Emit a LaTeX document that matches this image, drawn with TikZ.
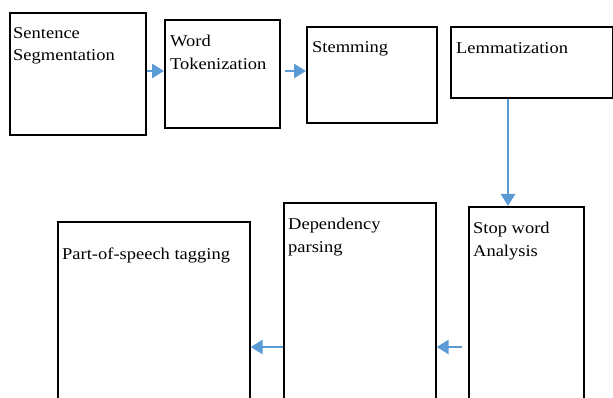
\documentclass[tikz,border=0pt]{standalone}
\usepackage{fontspec}
\setmainfont{Liberation Serif}[FakeStretch=1.12]
\usetikzlibrary{calc,arrows.meta}
\definecolor{arrblue}{RGB}{91,155,213}
\begin{document}
\begin{tikzpicture}[x=1pt,y=-1pt,
  box/.style={draw=black,line width=1.7pt,inner sep=0pt,anchor=north west},
  lbl/.style={anchor=base west,inner sep=0pt,align=left,font=\fontsize{16.5}{22.6}\selectfont},
  flow/.style={draw=arrblue,line width=2.8pt,-{Triangle[width=14pt,length=12pt]}}]
\useasboundingbox (0,0) rectangle (613,398);
\clip (0,0) rectangle (613,398);
\node[box,minimum width=136pt,minimum height=122pt] (b1) at (9,12) {};
\node[box,minimum width=115pt,minimum height=108pt] (b2) at (164,19) {};
\node[box,minimum width=130pt,minimum height=96pt] (b3) at (306,26) {};
\node[box,minimum width=162pt,minimum height=71pt] (b4) at (450,26) {};
\node[box,minimum width=115pt,minimum height=200pt] (b5) at (468,206) {};
\node[box,minimum width=152pt,minimum height=204pt] (b6) at (283,202) {};
\node[box,minimum width=192pt,minimum height=185pt] (b7) at (57,221) {};
\node[lbl] (t1) at (13,61) {Sentence\\Segmentation};
\node[lbl] (t2) at (170,69.5) {Word\\Tokenization};
\node[lbl] (t3) at (312,53) {Stemming};
\node[lbl] (t4) at (456,54) {Lemmatization};
\node[lbl] (t5) at (473,256.5) {Stop word\\Analysis};
\node[lbl] (t6) at (288,252.5) {Dependency\\parsing};
\node[lbl] (t7) at (62,259) {Part-of-speech tagging};
\coordinate (r1) at (0,71);
\coordinate (r2) at (0,347);
\coordinate (cv) at (508,0);
\draw[flow] (b1.east |- r1) -- (b2.west |- r1);
\draw[flow,shorten <=4pt] (b2.east |- r1) -- (b3.west |- r1);
\draw[flow] (b4.south -| cv) -- (b5.north -| cv);
\draw[flow,shorten <=6pt] (b5.west |- r2) -- (b6.east |- r2);
\draw[flow] (b6.west |- r2) -- (b7.east |- r2);
\end{tikzpicture}
\end{document}
